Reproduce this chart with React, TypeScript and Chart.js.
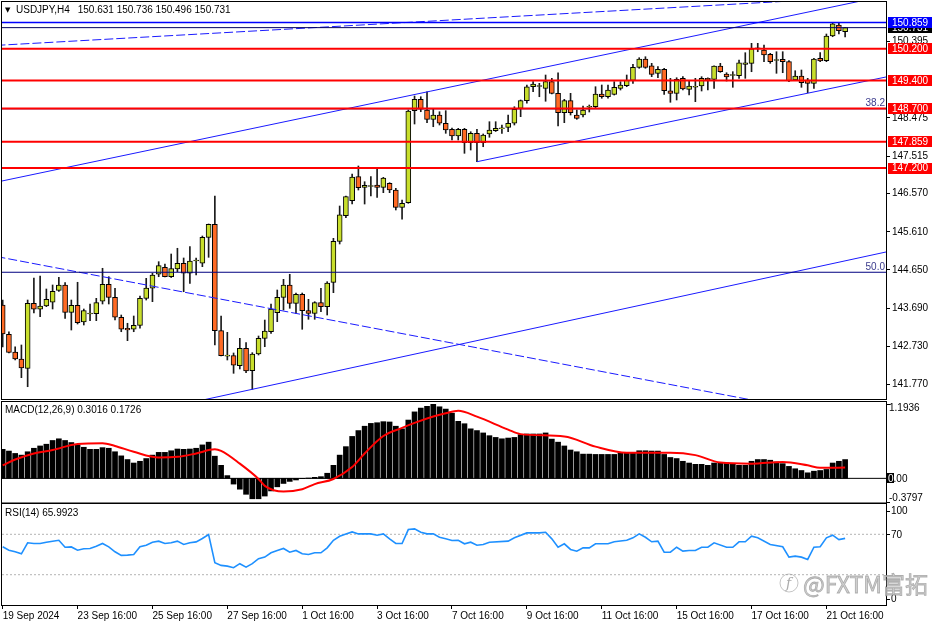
import React, { useEffect, useRef } from 'react';
import { Chart, registerables } from 'chart.js';

Chart.register(...registerables);

const FONT_FAMILY = '"Liberation Sans", Arial, sans-serif';
const FONT = `10px ${FONT_FAMILY}`;

// ---------------- DATA ----------------
const symbolTitle = 'USDJPY,H4';

const opens = [
  143.757,143.020,142.575,142.399,142.165,143.799,143.649,143.732,143.825,144.126,
  144.260,143.573,143.749,143.329,143.530,143.538,143.850,144.277,143.950,143.448,
  143.171,143.146,143.241,143.920,144.177,144.529,144.705,144.468,144.662,144.806,
  144.554,144.863,144.806,145.459,145.786,143.111,142.470,142.482,142.231,142.668,
  142.105,142.525,142.919,143.085,143.563,143.950,144.260,143.799,144.026,143.614,
  143.548,143.815,143.714,144.327,145.358,146.002,146.379,146.983,146.716,146.737,
  146.774,146.716,146.817,146.648,146.213,146.329,148.643,148.929,148.660,148.426,
  148.534,148.326,148.175,148.006,148.175,147.838,148.074,147.838,148.057,148.140,
  148.188,148.225,148.326,148.703,148.894,149.246,149.252,149.206,149.372,149.080,
  148.592,148.894,148.534,148.534,148.731,148.743,149.062,148.994,149.055,149.206,
  149.271,149.407,149.734,149.943,149.774,149.583,149.683,149.145,149.080,149.457,
  149.180,149.234,149.264,149.457,149.432,149.766,149.565,149.528,149.523,149.809,
  149.834,150.200,150.169,150.061,149.905,149.935,149.875,149.415,149.515,149.415,
  149.331,149.960,149.900,150.521,150.797,150.631,
];
const highs = [
  143.882,143.085,142.708,142.751,143.882,144.436,144.486,144.159,144.260,144.453,
  144.318,143.882,144.328,143.656,143.782,143.925,144.680,144.468,144.177,143.505,
  143.297,143.480,143.983,144.428,144.554,144.846,144.788,145.039,145.183,144.939,
  145.223,144.939,145.492,145.794,146.498,143.480,143.070,142.550,142.919,142.809,
  142.558,142.977,143.379,143.782,144.134,144.403,144.529,144.058,144.058,143.900,
  143.840,144.177,144.343,145.434,146.246,146.498,147.051,147.252,146.857,146.983,
  147.169,146.967,146.832,146.691,146.397,148.660,149.012,148.994,149.120,148.678,
  148.617,148.643,148.208,148.200,148.200,148.114,148.175,148.057,148.366,148.366,
  148.283,148.534,148.743,148.912,149.289,149.372,149.331,149.540,149.457,149.598,
  148.929,149.080,148.660,148.760,148.786,149.246,149.289,149.289,149.372,149.372,
  149.540,149.809,149.975,150.000,149.834,149.749,149.709,149.457,149.472,149.498,
  149.389,149.457,149.498,149.472,149.774,149.834,149.598,149.624,149.917,150.101,
  150.337,150.337,150.295,150.086,150.126,150.126,149.900,149.648,149.666,149.457,
  149.960,150.101,150.571,150.859,150.840,150.736,
];
const lows = [
  142.701,142.550,142.374,141.929,141.702,143.556,143.462,143.714,143.656,144.100,
  143.422,143.128,143.279,143.254,143.362,143.362,143.782,143.782,143.380,143.085,
  142.859,143.085,143.171,143.882,143.840,144.468,144.461,144.448,144.594,144.091,
  144.302,144.511,144.720,144.956,142.751,142.475,142.374,142.039,142.148,142.054,
  141.637,142.500,142.708,143.045,143.337,143.631,143.674,143.548,143.146,143.397,
  143.397,143.588,143.505,144.066,145.291,145.952,146.296,146.648,146.296,146.498,
  146.465,146.581,146.581,146.146,145.912,146.314,148.308,148.617,148.341,148.240,
  148.283,148.074,147.906,147.906,147.571,147.654,147.360,147.737,147.974,148.120,
  148.074,148.115,148.283,148.492,148.829,149.120,148.994,148.880,149.062,148.258,
  148.341,148.534,148.426,148.484,148.610,148.718,148.955,148.955,149.037,149.163,
  149.246,149.331,149.709,149.709,149.498,149.472,149.055,148.854,148.912,149.163,
  149.037,148.869,149.138,149.163,149.206,149.608,149.389,149.231,149.457,149.457,
  149.623,150.126,149.875,149.834,149.583,149.598,149.372,149.397,149.231,149.095,
  149.206,149.875,149.875,150.503,150.571,150.496,
];
const closes = [
  143.028,142.567,142.399,142.173,143.799,143.649,143.732,143.900,144.101,144.260,
  143.573,143.749,143.311,143.614,143.555,143.815,144.277,143.950,143.448,143.146,
  143.128,143.246,143.925,144.184,144.511,144.745,144.468,144.670,144.806,144.554,
  144.863,144.888,145.459,145.786,143.111,142.482,142.495,142.241,142.668,142.097,
  142.525,142.919,143.103,143.656,143.950,144.260,143.799,144.026,143.614,143.548,
  143.815,143.714,144.310,145.358,146.027,146.480,146.975,146.707,146.767,146.762,
  146.716,146.950,146.648,146.213,146.314,148.635,148.929,148.680,148.426,148.534,
  148.326,148.157,148.006,148.175,147.838,148.074,147.838,148.031,148.157,148.200,
  148.212,148.326,148.678,148.894,149.246,149.314,149.276,149.372,149.080,148.592,
  148.894,148.592,148.451,148.660,148.755,149.062,148.994,149.163,149.231,149.289,
  149.407,149.734,149.943,149.734,149.558,149.683,149.145,149.080,149.432,149.188,
  149.264,149.258,149.457,149.415,149.766,149.623,149.490,149.552,149.849,149.849,
  150.201,150.224,150.043,149.875,149.929,149.875,149.389,149.515,149.347,149.331,
  149.943,149.892,150.521,150.830,150.654,150.731,
];

const macdHist = [
  0.466,0.438,0.400,0.373,0.427,0.483,0.520,0.548,0.608,0.635,
  0.608,0.575,0.537,0.499,0.466,0.466,0.493,0.483,0.427,0.361,
  0.302,0.246,0.274,0.318,0.373,0.417,0.417,0.443,0.471,0.466,
  0.471,0.483,0.537,0.581,0.356,0.209,0.044,-0.092,-0.174,-0.256,
  -0.328,-0.328,-0.284,-0.202,-0.136,-0.082,-0.049,-0.026,-0.005,0.005,
  0.016,0.027,0.082,0.209,0.373,0.509,0.673,0.767,0.837,0.882,
  0.893,0.910,0.905,0.837,0.795,0.936,1.067,1.128,1.156,1.1936,
  1.149,1.112,1.046,0.915,0.877,0.795,0.767,0.729,0.685,0.657,
  0.635,0.647,0.657,0.701,0.712,0.712,0.712,0.729,0.630,0.581,
  0.520,0.455,0.427,0.389,0.389,0.384,0.384,0.384,0.384,0.411,
  0.411,0.411,0.443,0.443,0.438,0.438,0.384,0.335,0.318,0.274,
  0.246,0.225,0.225,0.209,0.246,0.246,0.246,0.225,0.209,0.209,
  0.274,0.302,0.302,0.291,0.263,0.236,0.192,0.154,0.126,0.089,
  0.115,0.126,0.143,0.246,0.274,0.3016,
];

// [bar index, value]
const macdSignal = [
  [0,0.209],[2,0.302],[5,0.40],[8,0.455],[12,0.553],[16,0.565],[18,0.52],[21,0.427],
  [25,0.335],[28,0.345],[31,0.40],[34,0.466],[35,0.44],[38,0.236],[41,-0.01],[42,-0.12],
  [45,-0.213],[48,-0.174],[50,-0.092],[53,-0.01],[56,0.181],[58,0.40],[61,0.68],[64,0.811],
  [66,0.89],[69,0.992],[71,1.046],[73,1.084],[76,0.99],[81,0.783],[83,0.71],[90,0.673],
  [95,0.509],[100,0.411],[107,0.411],[111,0.373],[115,0.253],[120,0.236],[125,0.263],
  [129,0.209],[131,0.17],[135,0.1726],
];

const rsiValues = [
  [0,57.6],[1,54.3],[2,52.7],[3,50.7],[4,61.6],[5,60.9],[6,60.9],[7,62.2],[8,63.2],[9,64.1],
  [10,57.2],[11,57.5],[12,54.3],[13,55.7],[14,55.9],[15,58.2],[16,60.9],[17,57.6],[18,52.7],[19,49.1],
  [20,49.4],[21,50.0],[22,57.6],[23,59.2],[24,62.2],[25,63.2],[26,60.9],[27,61.6],[28,63.2],[29,59.9],
  [30,61.6],[31,62.5],[32,65.8],[33,69.8],[34,41.9],[35,39.2],[36,38.5],[37,36.9],[38,40.9],[39,37.5],
  [40,40.9],[41,45.8],[42,47.4],[43,51.7],[44,54.0],[45,56.0],[46,52.3],[47,54.0],[48,50.7],[49,50.0],
  [50,51.7],[51,51.7],[52,56.6],[53,64.1],[54,68.1],[55,70.4],[56,72.4],[57,70.4],[58,70.4],[59,70.4],
  [60,69.1],[61,70.4],[62,65.5],[63,60.9],[64,60.9],[65,74.7],[66,75.4],[67,72.0],[68,70.4],[69,70.4],
  [70,67.1],[71,65.5],[72,63.8],[73,64.1],[74,60.6],[75,62.2],[76,59.2],[77,59.9],[78,62.2],[81,63.2],
  [82,66.5],[84,71.4],[86,71.4],[87,72.0],[88,65.5],[89,57.2],[90,60.6],[91,55.0],[92,53.3],[93,56.6],
  [94,56.6],[95,60.6],[97,60.6],[98,62.6],[100,64.1],[101,66.5],[102,70.4],[103,67.1],[104,62.6],[105,63.2],
  [106,52.3],[107,52.3],[108,57.2],[109,53.3],[110,54.0],[111,54.0],[112,57.2],[113,57.2],[114,61.6],[116,57.2],
  [117,57.2],[118,62.6],[119,62.6],[120,68.1],[121,66.5],[123,59.9],[125,57.6],[126,47.4],[127,48.4],[128,47.4],
  [129,45.1],[130,57.2],[131,57.6],[132,66.5],[133,69.1],[134,64.8],[135,65.9923],
];

const xTickIdx = [0, 12, 24, 36, 48, 60, 72, 84, 96, 108, 120, 132];
const xTickLabels = [
  '19 Sep 2024', '23 Sep 16:00', '25 Sep 16:00', '27 Sep 16:00', '1 Oct 16:00', '3 Oct 16:00',
  '7 Oct 16:00', '9 Oct 16:00', '11 Oct 16:00', '15 Oct 16:00', '17 Oct 16:00', '21 Oct 16:00',
];
const priceTicks = [141.770, 142.730, 143.690, 144.650, 145.610, 146.570, 147.515, 148.475, 150.395];
const redLevels = [150.200, 149.400, 148.700, 147.859, 147.200];
const highLevel = 150.859;
const bidLevel = 150.731;
const fibLevels = [148.69, 144.58];
const fibLabels = ['38.2', '50.0'];
// trend lines: [bar index, price]
const channelUpper = [[-1, 146.846], [142, 151.549]];
const channelLower = [[76, 147.36], [142, 149.505]];
const supportLine = [[30, 141.297], [142, 145.105]];
const dashDown = [[-1, 144.976], [125, 141.22]];
const dashUp = [[-1, 150.285], [142, 151.539]];
const macdTicks = [1.1936, 0, -0.3797];
const rsiTicks = [100, 70, 0];
const rsiLevels = [70, 30];

// ---------------- STYLE / GEOMETRY ----------------
const X_MIN = -0.11;
const X_MAX = 141.55;
const PRICE_MIN = 141.393;
const PRICE_MAX = 151.376;
const MACD_MIN = -0.3797;
const MACD_MAX = 1.1936;
const BULL = '#c8de2c';
const BEAR = '#ff6a24';
const LAST = opens.length - 1;

const pts = (arr: number[][]) => arr.map(([x, y]) => ({ x, y }));

function levelDs(value: number, color: string, width: number, dash: number[] = []) {
  return {
    type: 'line',
    data: [{ x: X_MIN, y: value }, { x: X_MAX, y: value }],
    borderColor: color, borderWidth: width, borderDash: dash,
    pointRadius: 0, order: 0,
  };
}
function trendDs(arr: number[][], dash: number[] = []) {
  return {
    type: 'line', data: pts(arr), borderColor: '#1a1aff', borderWidth: 1,
    borderDash: dash, pointRadius: 0, order: 0,
  };
}

function baseOptions(yMin: number, yMax: number, padding: any) {
  return {
    animation: false, responsive: false, maintainAspectRatio: false, devicePixelRatio: 1,
    events: [],
    layout: { padding },
    plugins: { legend: { display: false }, tooltip: { enabled: false } },
    scales: {
      x: { type: 'linear', min: X_MIN, max: X_MAX, offset: false, display: false },
      y: { type: 'linear', min: yMin, max: yMax, display: false },
    },
  } as any;
}

function tickMark(ctx: CanvasRenderingContext2D, x: number, py: number) {
  ctx.beginPath();
  ctx.moveTo(x + 0.5, Math.round(py) + 0.5);
  ctx.lineTo(x + 4, Math.round(py) + 0.5);
  ctx.stroke();
}

const pricePlugin = {
  id: 'priceDecor',
  afterDraw(chart: any) {
    const { ctx, chartArea: a } = chart;
    const y = chart.scales.y;
    ctx.save();
    ctx.lineWidth = 1;
    ctx.strokeStyle = '#000';
    ctx.strokeRect(a.left - 0.5, a.top - 0.5, a.right - a.left + 1, a.bottom - a.top + 1);
    ctx.font = FONT;
    ctx.textBaseline = 'middle';
    ctx.textAlign = 'left';
    ctx.fillStyle = '#000';
    for (const v of priceTicks) {
      const py = y.getPixelForValue(v);
      tickMark(ctx, a.right, py);
      ctx.fillText(v.toFixed(3), a.right + 6, py + 0.5);
    }
    const tag = (v: number, bg: string) => {
      const py = y.getPixelForValue(v);
      ctx.fillStyle = bg;
      ctx.fillRect(a.right + 2, Math.round(py - 5.5), 44, 11);
      ctx.fillStyle = '#fff';
      ctx.fillText(v.toFixed(3), a.right + 6, py + 0.5);
    };
    tag(bidLevel, '#000');
    tag(highLevel, '#0000ff');
    redLevels.forEach((v) => tag(v, '#ff0000'));
    ctx.fillStyle = '#3a3a8c';
    ctx.textAlign = 'right';
    ctx.textBaseline = 'bottom';
    fibLevels.forEach((v, k) => ctx.fillText(fibLabels[k], a.right - 1, y.getPixelForValue(v) - 0.5));
    // title
    ctx.textAlign = 'left';
    ctx.textBaseline = 'middle';
    ctx.fillStyle = '#000';
    ctx.font = '7px "DejaVu Sans", sans-serif';
    ctx.fillText('▼', 5, 10);
    ctx.font = FONT;
    ctx.fillText(symbolTitle, 16, 10);
    const ohlc = [opens[LAST], highs[LAST], lows[LAST], closes[LAST]].map((v) => v.toFixed(3)).join(' ');
    const tx = Math.max(72, 16 + ctx.measureText(symbolTitle).width + 8);
    ctx.fillText(ohlc, tx, 10);
    ctx.restore();
  },
};

const macdPlugin = {
  id: 'macdDecor',
  afterDraw(chart: any) {
    const { ctx, chartArea: a } = chart;
    const y = chart.scales.y;
    ctx.save();
    ctx.lineWidth = 1;
    ctx.strokeStyle = '#000';
    ctx.strokeRect(a.left - 0.5, a.top - 2.5, a.right - a.left + 1, a.bottom - a.top + 3.5);
    ctx.font = FONT;
    ctx.textBaseline = 'middle';
    ctx.textAlign = 'left';
    for (const v of macdTicks) {
      const py = Math.min(Math.max(y.getPixelForValue(v), a.top + 4), a.bottom - 4);
      ctx.fillStyle = '#000';
      tickMark(ctx, a.right, y.getPixelForValue(v));
      if (v === 0) {
        ctx.fillRect(a.right + 1, Math.round(py - 5), 7, 10);
        ctx.fillStyle = '#fff';
        ctx.fillText('0', a.right + 2, py + 0.5);
        ctx.fillStyle = '#000';
        ctx.fillText('.00', a.right + 2 + ctx.measureText('0').width, py + 0.5);
      } else {
        ctx.fillText(v.toFixed(4), a.right + 3, py + 0.5);
      }
    }
    ctx.fillStyle = '#000';
    const sig = macdSignal[macdSignal.length - 1][1];
    ctx.fillText(`MACD(12,26,9) ${macdHist[LAST].toFixed(4)} ${sig.toFixed(4)}`, 5, 9);
    ctx.restore();
  },
};

const rsiPlugin = {
  id: 'rsiDecor',
  afterDraw(chart: any) {
    const { ctx, chartArea: a } = chart;
    const y = chart.scales.y;
    ctx.save();
    ctx.lineWidth = 1;
    ctx.strokeStyle = '#000';
    ctx.strokeRect(a.left - 0.5, a.top - 0.5, a.right - a.left + 1, a.bottom - a.top + 1);
    ctx.font = FONT;
    ctx.textBaseline = 'middle';
    ctx.textAlign = 'left';
    ctx.fillStyle = '#000';
    for (const v of rsiTicks) {
      const py = Math.min(Math.max(y.getPixelForValue(v), a.top + 7), a.bottom - 6);
      tickMark(ctx, a.right, py);
      ctx.fillText(String(v), a.right + 5, py + 0.5);
    }
    const last = rsiValues[rsiValues.length - 1][1];
    ctx.fillText(`RSI(14) ${last.toFixed(4)}`, 5, 10);
    // watermark
    ctx.fillStyle = 'rgba(200,200,200,0.85)';
    ctx.strokeStyle = 'rgba(150,150,150,0.7)';
    ctx.lineWidth = 0.8;
    ctx.font = '23px "Noto Sans CJK SC", "Noto Sans", sans-serif';
    ctx.textBaseline = 'alphabetic';
    ctx.fillText('@FXTM富拓', 803, 90);
    ctx.strokeText('@FXTM富拓', 803, 90);
    ctx.beginPath();
    ctx.arc(789, 80, 9, 0, Math.PI * 2);
    ctx.stroke();
    ctx.font = 'italic 14px "DejaVu Serif", serif';
    ctx.fillStyle = 'rgba(150,150,150,0.8)';
    ctx.fillText('f', 786, 85);
    ctx.restore();
  },
};

function priceConfig(): any {
  const datasets: any[] = [
    levelDs(highLevel, '#0000ff', 1.5),
    levelDs(bidLevel, '#000060', 1),
    ...redLevels.map((v) => levelDs(v, '#ff0000', 2)),
    ...fibLevels.map((v) => levelDs(v, '#000080', 1)),
    trendDs(channelUpper),
    trendDs(channelLower),
    trendDs(supportLine),
    trendDs(dashDown, [9, 3]),
    trendDs(dashUp, [9, 3]),
    {
      type: 'bar',
      data: opens.map((o, i) => ({ x: i, y: [Math.min(o, closes[i]), Math.max(o, closes[i])] })),
      backgroundColor: opens.map((o, i) => (closes[i] >= o ? BULL : BEAR)),
      borderColor: '#000', borderWidth: 1, borderSkipped: false,
      barThickness: 5, grouped: false, order: 1,
    },
    {
      type: 'bar',
      data: opens.map((_, i) => ({ x: i, y: [lows[i], highs[i]] })),
      backgroundColor: '#1a1a1a', borderWidth: 0,
      barThickness: 1, grouped: false, order: 2,
    },
  ];
  return {
    type: 'bar',
    data: { datasets },
    options: baseOptions(PRICE_MIN, PRICE_MAX, { left: 2, top: 2, bottom: 2, right: 50 }),
    plugins: [pricePlugin],
  };
}

function macdConfig(): any {
  return {
    type: 'bar',
    data: {
      datasets: [
        {
          type: 'line', data: pts(macdSignal), borderColor: '#ff0000', borderWidth: 2,
          pointRadius: 0, cubicInterpolationMode: 'monotone', order: 0,
        },
        levelDs(0, '#000', 1),
        {
          type: 'bar', data: macdHist.map((v, i) => ({ x: i, y: v })),
          backgroundColor: '#000', borderWidth: 0, barThickness: 5, grouped: false, order: 2,
        },
      ],
    },
    options: baseOptions(MACD_MIN, MACD_MAX, { left: 2, top: 3, bottom: 1, right: 50 }),
    plugins: [macdPlugin],
  };
}

function rsiConfig(): any {
  const options = baseOptions(0, 100, { left: 2, top: 1, bottom: 0, right: 50 });
  options.scales.x = {
    type: 'linear', min: X_MIN, max: X_MAX, offset: false, display: true,
    afterBuildTicks: (s: any) => { s.ticks = xTickIdx.map((value) => ({ value })); },
    afterFit: (s: any) => { s.height = 19; },
    grid: { display: true, drawOnChartArea: false, drawTicks: true, tickLength: 4, color: '#000', lineWidth: 1 },
    border: { display: false },
    ticks: {
      autoSkip: false, maxRotation: 0, minRotation: 0, align: 'start', padding: 1, color: '#000',
      font: { family: FONT_FAMILY, size: 10 },
      callback: (_v: any, idx: number) => xTickLabels[idx] ?? '',
    },
  };
  return {
    type: 'line',
    data: {
      datasets: [
        ...rsiLevels.map((v) => ({ ...levelDs(v, '#b4b4b4', 1, [2, 2]), order: 1 })),
        {
          type: 'line', data: pts(rsiValues), borderColor: '#1e90ff', borderWidth: 1.6,
          pointRadius: 0, tension: 0, order: 0,
        },
      ],
    },
    options,
    plugins: [rsiPlugin],
  };
}

export default function App() {
  const priceRef = useRef<HTMLCanvasElement>(null);
  const macdRef = useRef<HTMLCanvasElement>(null);
  const rsiRef = useRef<HTMLCanvasElement>(null);

  useEffect(() => {
    Chart.defaults.font.family = FONT_FAMILY;
    Chart.defaults.font.size = 10;
    const charts = [
      new Chart(priceRef.current as HTMLCanvasElement, priceConfig()),
      new Chart(macdRef.current as HTMLCanvasElement, macdConfig()),
      new Chart(rsiRef.current as HTMLCanvasElement, rsiConfig()),
    ];
    return () => charts.forEach((c) => c.destroy());
  }, []);

  return (
    <div style={{ position: 'absolute', left: 0, top: 0, width: 936, height: 624, background: '#fff', overflow: 'hidden' }}>
      <canvas ref={priceRef} width={936} height={401} style={{ position: 'absolute', left: 0, top: 0, width: 936, height: 401 }} />
      <canvas ref={macdRef} width={936} height={102} style={{ position: 'absolute', left: 0, top: 401, width: 936, height: 102 }} />
      <canvas ref={rsiRef} width={936} height={121} style={{ position: 'absolute', left: 0, top: 503, width: 936, height: 121 }} />
    </div>
  );
}
